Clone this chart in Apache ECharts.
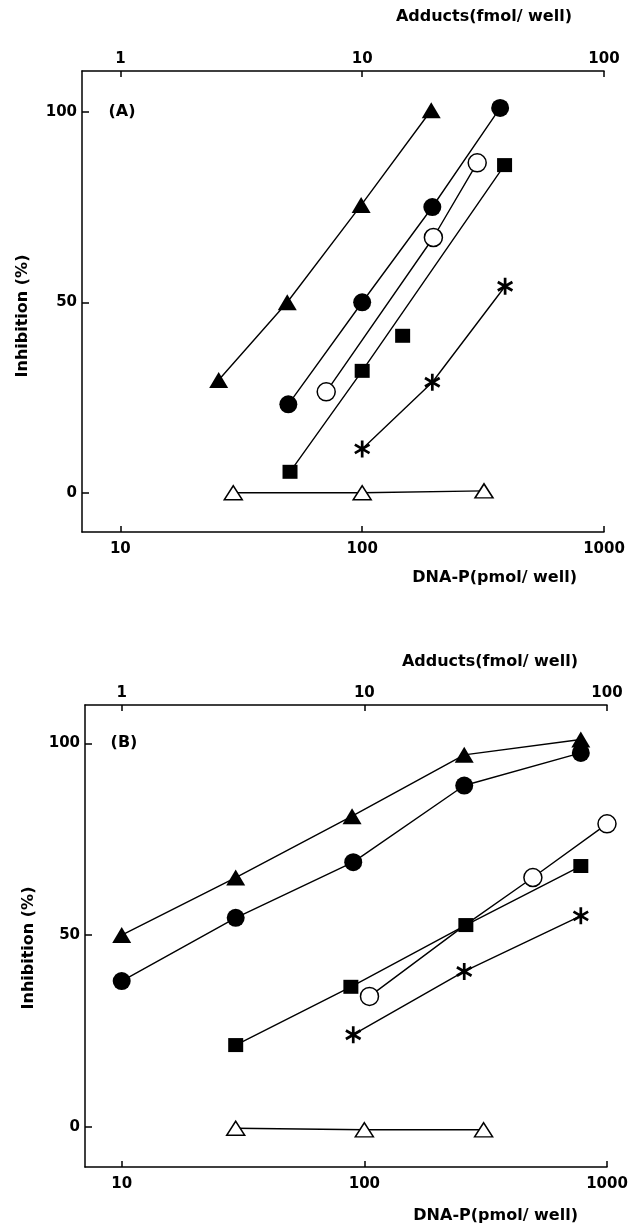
<!DOCTYPE html>
<html>
<head>
<meta charset="utf-8">
<script src="https://cdn.jsdelivr.net/npm/echarts@6/dist/echarts.min.js"></script>
<style>
  html, body { margin: 0; padding: 0; background: #fff; }
  #chart { width: 631px; height: 1227px; }
</style>
</head>
<body>
<div id="chart"></div>
<script>
// values: [DNA-P (pmol/well), inhibition (%)]
// panel (A)
var aTriFilled = [[25.5, 29.6], [49, 50], [99, 75.5], [193, 100.4]];
var aCircFilled = [[49.5, 23.2], [100, 50], [195, 75], [372, 101]];
var aCircOpen = [[71, 26.5], [197, 67], [299, 86.6]];
var aSqFilled = [[50.3, 5.5], [100, 32], [388, 86]];
var aSqLoose = [[147, 41.2]];
var aStar = [[100, 11.5], [195, 29], [390, 54.2]];
var aTriOpen = [[29.3, 0], [100, 0], [319, 0.5]];

// panel (B)
var bTriFilled = [[10, 50], [29.5, 65], [89, 81], [258, 97], [780, 101]];
var bCircFilled = [[10, 38], [29.5, 54.5], [90, 69], [258, 89], [780, 97.5]];
var bCircOpen = [[105, 34], [260, 52.6], [495, 65], [1000, 79]];
var bCircOpenHidden = [1]; // this point sits under a filled square
var bSqFilled = [[29.5, 21.3], [88, 36.5], [262, 52.6], [780, 68]];
var bStar = [[90, 24], [258, 40.5], [780, 55]];
var bTriOpen = [[29.5, -0.4], [100, -0.8], [310, -0.8]];

var yTicks = [0, 50, 100];

var FONT = '"DejaVu Sans", "Liberation Sans", sans-serif';
var asterisk = 'path://M-1.6,10L1.6,10L1.6,-10L-1.6,-10Z' +
  'M7.86,6.386L9.46,3.614L-7.86,-6.386L-9.46,-3.614Z' +
  'M-9.46,3.614L-7.86,6.386L9.46,-3.614L7.86,-6.386Z';

function mark(data, grid, symbol, size, filled, noLine, hidden) {
  var items = data.map(function (d, i) {
    if (hidden && hidden.indexOf(i) >= 0) return { value: d, symbol: 'none' };
    return d;
  });
  return {
    type: 'line',
    xAxisIndex: grid * 2,
    yAxisIndex: grid,
    data: items,
    symbol: symbol,
    symbolSize: size,
    showSymbol: true,
    silent: true,
    lineStyle: { color: '#000', width: noLine ? 0 : 1.4, opacity: noLine ? 0 : 1 },
    itemStyle: {
      color: filled ? '#000' : '#fff',
      borderColor: '#000',
      borderWidth: filled ? 0 : 1.5
    },
    emphasis: { disabled: true }
  };
}

function numLabel(v) {
  return String(+(+v).toPrecision(6));
}

function xAxisPair(grid, min) {
  var base = {
    type: 'log',
    logBase: 10,
    gridIndex: grid,
    splitLine: { show: false },
    axisLine: { onZero: false, lineStyle: { color: '#000', width: 1.5 } },
    axisTick: { inside: true, length: 6, lineStyle: { color: '#000', width: 1.5 } },
    axisLabel: { color: '#000', fontFamily: FONT, fontWeight: 'bold', fontSize: 15,
      showMinLabel: false, formatter: numLabel }
  };
  var bottom = echarts.util.merge({ position: 'bottom', min: min, max: 1000,
    axisLabel: { margin: 10 } }, base, true);
  var top = echarts.util.merge({ position: 'top', min: min / 10, max: 100,
    axisLabel: { margin: 4 } }, base, true);
  return [bottom, top];
}

function yAxis(grid, min, max) {
  return {
    type: 'value',
    gridIndex: grid,
    min: min,
    max: max,
    splitLine: { show: false },
    axisLine: { show: true, onZero: false, lineStyle: { color: '#000', width: 1.5 } },
    axisTick: { show: true, inside: true, length: 7, customValues: yTicks,
      lineStyle: { color: '#000', width: 1.5 } },
    axisLabel: { color: '#000', fontFamily: FONT, fontWeight: 'bold', fontSize: 15,
      margin: 5, customValues: yTicks }
  };
}

function txt(x, y, s, align, rot) {
  return {
    type: 'text', x: x, y: y, rotation: rot || 0, silent: true,
    style: { text: s, fill: '#000', font: 'bold 16px ' + FONT,
      align: align, verticalAlign: 'middle' }
  };
}

var chart = echarts.init(document.getElementById('chart'));

chart.setOption({
  animation: false,
  backgroundColor: '#fff',
  grid: [
    { left: 82, top: 71, width: 522, height: 461 },
    { left: 85, top: 705, width: 522, height: 462 }
  ],
  xAxis: xAxisPair(0, 6.94).concat(xAxisPair(1, 7.06)),
  yAxis: [yAxis(0, -10.3, 110.7), yAxis(1, -10.5, 110)],
  graphic: [
    txt(572, 17, 'Adducts(fmol/ well)', 'right'),
    txt(577, 578, 'DNA-P(pmol/ well)', 'right'),
    txt(122, 112, '(A)', 'center'),
    txt(23, 316, 'Inhibition (%)', 'center', Math.PI / 2),
    txt(578, 662, 'Adducts(fmol/ well)', 'right'),
    txt(578, 1216, 'DNA-P(pmol/ well)', 'right'),
    txt(124, 743, '(B)', 'center'),
    txt(29, 948, 'Inhibition (%)', 'center', Math.PI / 2)
  ],
  series: [
    mark(aTriOpen, 0, 'triangle', [18, 14], false),
    mark(aStar, 0, asterisk, [16, 17], true),
    mark(aSqFilled, 0, 'rect', [15, 14], true),
    mark(aSqLoose, 0, 'rect', [15, 14], true, true),
    mark(aCircOpen, 0, 'circle', 18, false),
    mark(aCircFilled, 0, 'circle', 18, true),
    mark(aTriFilled, 0, 'triangle', [19, 16], true),

    mark(bTriOpen, 1, 'triangle', [18, 14], false),
    mark(bStar, 1, asterisk, [16, 17], true),
    mark(bCircOpen, 1, 'circle', 18, false, false, bCircOpenHidden),
    mark(bSqFilled, 1, 'rect', [15, 14], true),
    mark(bCircFilled, 1, 'circle', 18, true),
    mark(bTriFilled, 1, 'triangle', [19, 16], true)
  ]
});
</script>
</body>
</html>
